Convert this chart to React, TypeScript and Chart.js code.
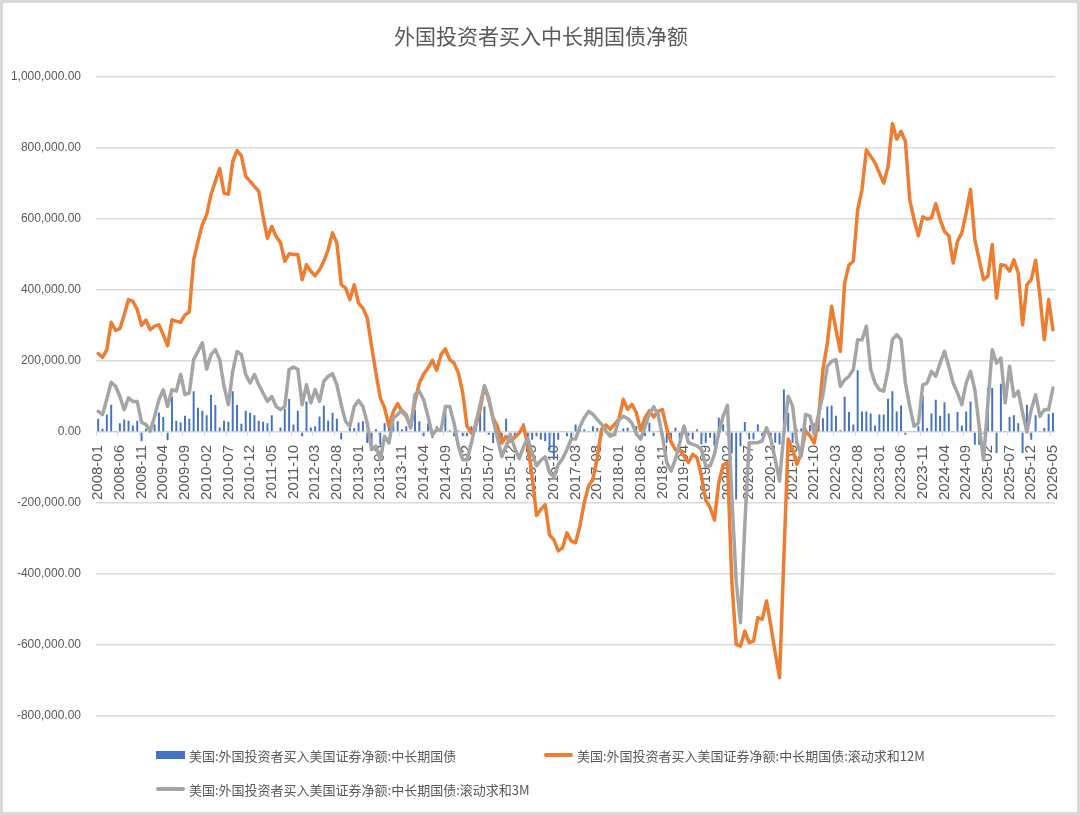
import { useEffect, useRef } from "react";
import Chart from "chart.js/auto";

// 月度序列: 2008-01 .. 2026-05
const FIRST_YEAR = 2008;
const MONTH_COUNT = 221;
const months: string[] = Array.from({ length: MONTH_COUNT }, (_, i) => {
  const y = FIRST_YEAR + Math.floor(i / 12);
  const m = (i % 12) + 1;
  return `${y}-${m < 10 ? "0" + m : m}`;
});

// 单位: 千
const netBuy = [
  37, 9, 49, 77, 3, 25, 35, 32, 18, 32, -26, 9,
  5, 21, 55, 42, -23, 100, 32, 27, 46, 37, 115, 68,
  60, 47, 105, 76, 13, 32, 29, 115, 76, 23, 60, 54,
  47, 32, 29, 25, 47, 2, 13, 65, 93, 21, 60, -12,
  86, 13, 16, 44, 74, 32, 54, 37, -21, 2, 11, 11,
  27, 30, -31, -40, 8, -36, 25, 16, 25, 30, 8, 16,
  3, 63, 30, -12, 25, -17, 16, 3, 74, 5, -12, 4,
  -12, -12, 16, 35, 54, 72, -8, -31, -22, -31, 37, -12,
  -12, 3, 25, -22, -22, -12, -22, -26, -50, -78, -22, 3,
  -12, -17, 21, 11, 8, 3, 16, 11, -12, 10, -8, -12,
  3, 10, 12, 3, 17, 3, -11, 26, -11, 3, -21, -30,
  -25, 12, -21, 8, -11, -21, 8, -35, -30, -16, -39, 40,
  22, -10, -60, -190, -40, 28, -21, -21, 22, -11, 5, -21,
  -30, -35, 120, 54, -30, 8, 10, 12, 20, 25, 63, 39,
  72, 75, 46, 5, 99, 56, 21, 174, 58, 58, 52, 18,
  49, 49, 94, 115, 58, 75, -8, 3, 3, 16, 102, 11,
  52, 91, 46, 84, 52, 3, 56, 18, 58, 86, -36, -36,
  -5, 124, 124, -59, 136, 3, 42, 47, 25, -59, 77, -22,
  47, 3, 11, 51, 54,
];

const rolling12M = [
  221, 210, 232, 309, 286, 291, 330, 373, 368, 345, 300, 315,
  288, 298, 302, 274, 243, 316, 312, 309, 330, 338, 485, 537,
  584, 612, 669, 706, 742, 673, 670, 762, 793, 778, 720, 706,
  692, 678, 607, 546, 579, 551, 534, 481, 502, 500, 500, 429,
  471, 453, 440, 457, 481, 514, 561, 532, 415, 406, 373, 415,
  363, 349, 321, 241, 166, 96, 68, 16, 58, 80, 58, 44,
  16, 86, 138, 163, 180, 202, 174, 218, 234, 204, 194, 166,
  110, 16, -3, 16, 63, 129, 91, 39, 16, -31, -12, -26,
  -15, -3, 17, -40, -125, -235, -218, -205, -290, -304, -335, -326,
  -284, -307, -312, -265, -199, -152, -133, -72, 8, 20, 8, 22,
  36, 92, 64, 78, 54, 5, 40, 60, 42, 58, 63, 10,
  -28, -50, -50, -68, -86, -63, -72, -124, -192, -213, -248, -143,
  -93, -86, -420, -598, -603, -561, -593, -589, -523, -528, -476, -546,
  -622, -692, -354, -20, -49, -91, -60, 3, -11, -31, 44, 176,
  250, 354, 288, 227, 420, 471, 481, 626, 683, 795, 777, 758,
  730, 701, 748, 869, 825, 847, 819, 654, 598, 553, 606, 600,
  603, 643, 598, 565, 553, 476, 537, 561, 617, 683, 542, 485,
  429, 439, 528, 377, 471, 469, 453, 485, 448, 302, 415, 429,
  484, 382, 260, 373, 288,
];

const rolling3M = [
  58, 49, 93, 140, 129, 100, 63, 96, 86, 86, 27, 21,
  2, 44, 91, 119, 72, 119, 115, 162, 105, 110, 204, 227,
  251, 177, 218, 232, 204, 129, 77, 171, 227, 218, 162, 138,
  162, 133, 110, 86, 100, 72, 63, 72, 176, 183, 176, 77,
  133, 82, 119, 86, 143, 157, 164, 133, 77, 30, 16, 72,
  89, 72, 25, -50, -40, -78, -12, -31, 39, 49, 61, 49,
  11, 105, 115, 91, 44, -8, 7, 5, 72, 72, 25, -40,
  -78, -78, -31, 25, 77, 131, 96, 35, -17, -69, -40, -8,
  -45, -75, -42, -18, -60, -95, -80, -70, -115, -127, -92, -75,
  -50, -20, -20, 15, 40, 58, 50, 35, 22, 2, -12, -5,
  35, 44, 38, 25, -5, -20, 15, 50, 71, 50, -11, -86,
  -110, -77, -30, 17, -30, -35, -39, -49, -96, -96, -63, -2,
  45, 75, -180, -420, -537, -260, -30, -30, -30, -25, 12, -21,
  -77, -138, -2, 101, 73, -30, -68, 50, 45, -5, 50, 105,
  185, 199, 204, 129, 147, 157, 176, 260, 260, 298, 176, 138,
  119, 115, 176, 260, 274, 260, 138, 72, 16, 25, 133, 138,
  171, 157, 194, 227, 185, 138, 110, 77, 138, 171, 119, 16,
  -78, 80, 232, 194, 208, 82, 185, 100, 115, 54, 0, 63,
  105, 44, 63, 63, 124,
];

const TITLE = "外国投资者买入中长期国债净额";
const SERIES_NAMES = [
  "美国:外国投资者买入美国证券净额:中长期国债",
  "美国:外国投资者买入美国证券净额:中长期国债:滚动求和12M",
  "美国:外国投资者买入美国证券净额:中长期国债:滚动求和3M",
];

const BLUE = "#4472C4";
const ORANGE = "#ED7D31";
const GRAY = "#A5A5A5";
const TEXT = "#595959";
const GRID = "#d9d9d9";
const CJK = "'Noto Sans CJK SC', 'Noto Sans', sans-serif";
const LATIN = "'Liberation Sans', sans-serif";

const fmt = (v: number) =>
  (v * 1000).toLocaleString("en-US", { minimumFractionDigits: 2, maximumFractionDigits: 2 });

function LegendItem(props: { label: string; color: string; kind: "box" | "line"; left: number; top: number }) {
  const { label, color, kind, left, top } = props;
  return (
    <div style={{ position: "absolute", left, top: top - 10, height: 20, display: "flex", alignItems: "center", whiteSpace: "nowrap" }}>
      <span
        style={{
          display: "inline-block",
          width: 29,
          height: kind === "box" ? 8 : 4,
          borderRadius: kind === "box" ? 0 : 2,
          background: color,
          marginRight: 4,
        }}
      />
      <span style={{ fontFamily: CJK, fontSize: 13, color: TEXT }}>{label}</span>
    </div>
  );
}

export default function App() {
  const canvasRef = useRef<HTMLCanvasElement | null>(null);

  useEffect(() => {
    if (!canvasRef.current) return;

    const chart = new Chart(canvasRef.current, {
      type: "bar",
      data: {
        labels: months,
        datasets: [
          {
            type: "bar",
            label: SERIES_NAMES[0],
            data: netBuy,
            backgroundColor: BLUE,
            barPercentage: 0.45,
            categoryPercentage: 1,
            order: 3,
          },
          {
            type: "line",
            label: SERIES_NAMES[1],
            data: rolling12M,
            borderColor: ORANGE,
            backgroundColor: ORANGE,
            borderWidth: 3.5,
            pointRadius: 0,
            tension: 0,
            borderJoinStyle: "round",
            borderCapStyle: "round",
            order: 2,
          },
          {
            type: "line",
            label: SERIES_NAMES[2],
            data: rolling3M,
            borderColor: GRAY,
            backgroundColor: GRAY,
            borderWidth: 3.5,
            pointRadius: 0,
            tension: 0,
            borderJoinStyle: "round",
            borderCapStyle: "round",
            order: 1,
          },
        ],
      },
      options: {
        animation: false,
        responsive: true,
        maintainAspectRatio: false,
        layout: { padding: { top: 77, right: 15, bottom: 99, left: 0 } },
        plugins: {
          legend: { display: false },
          tooltip: { enabled: false },
          title: { display: false },
        },
        scales: {
          x: {
            type: "category",
            position: { y: 0 },
            border: { display: false },
            grid: {
              display: true,
              drawOnChartArea: false,
              drawTicks: true,
              tickLength: 4,
              offset: true,
              color: (ctx: any) => (ctx.index % 5 === 0 ? GRID : "rgba(0,0,0,0)"),
            },
            ticks: {
              autoSkip: false,
              minRotation: 90,
              maxRotation: 90,
              padding: 9,
              color: TEXT,
              font: { family: LATIN, size: 15 },
              callback: (_v: any, i: number) => (i % 5 === 0 ? months[i] : ""),
            },
            afterFit: (scale: any) => {
              scale.height = 0;
            },
          },
          y: {
            min: -800,
            max: 1000,
            border: { display: false },
            grid: { color: GRID, lineWidth: 1.5, drawTicks: false },
            ticks: {
              stepSize: 200,
              padding: 15,
              color: TEXT,
              font: { family: LATIN, size: 12 },
              callback: (v: any) => fmt(Number(v)),
            },
            afterFit: (scale: any) => {
              scale.width = 96;
            },
          },
        },
      },
    });

    return () => chart.destroy();
  }, []);

  return (
    <div style={{ position: "absolute", left: 0, top: 0, width: 1080, height: 815, background: "#fff", overflow: "hidden" }}>
      <div style={{ position: "absolute", left: 0, top: 0, width: 1080, height: 815 }}>
        <canvas ref={canvasRef} />
      </div>
      <div
        style={{
          position: "absolute",
          left: 0,
          width: 1082,
          top: 20,
          textAlign: "center",
          fontFamily: CJK,
          fontSize: 21,
          lineHeight: "30px",
          color: TEXT,
          whiteSpace: "nowrap",
        }}
      >
        {TITLE}
      </div>
      <LegendItem label={SERIES_NAMES[0]} color={BLUE} kind="box" left={156} top={755} />
      <LegendItem label={SERIES_NAMES[1]} color={ORANGE} kind="line" left={544} top={755} />
      <LegendItem label={SERIES_NAMES[2]} color={GRAY} kind="line" left={156} top={789} />
      <div
        style={{
          position: "absolute",
          left: 0,
          top: 0,
          width: 1080,
          height: 815,
          boxSizing: "border-box",
          border: `3px solid ${GRID}`,
          pointerEvents: "none",
        }}
      />
    </div>
  );
}
